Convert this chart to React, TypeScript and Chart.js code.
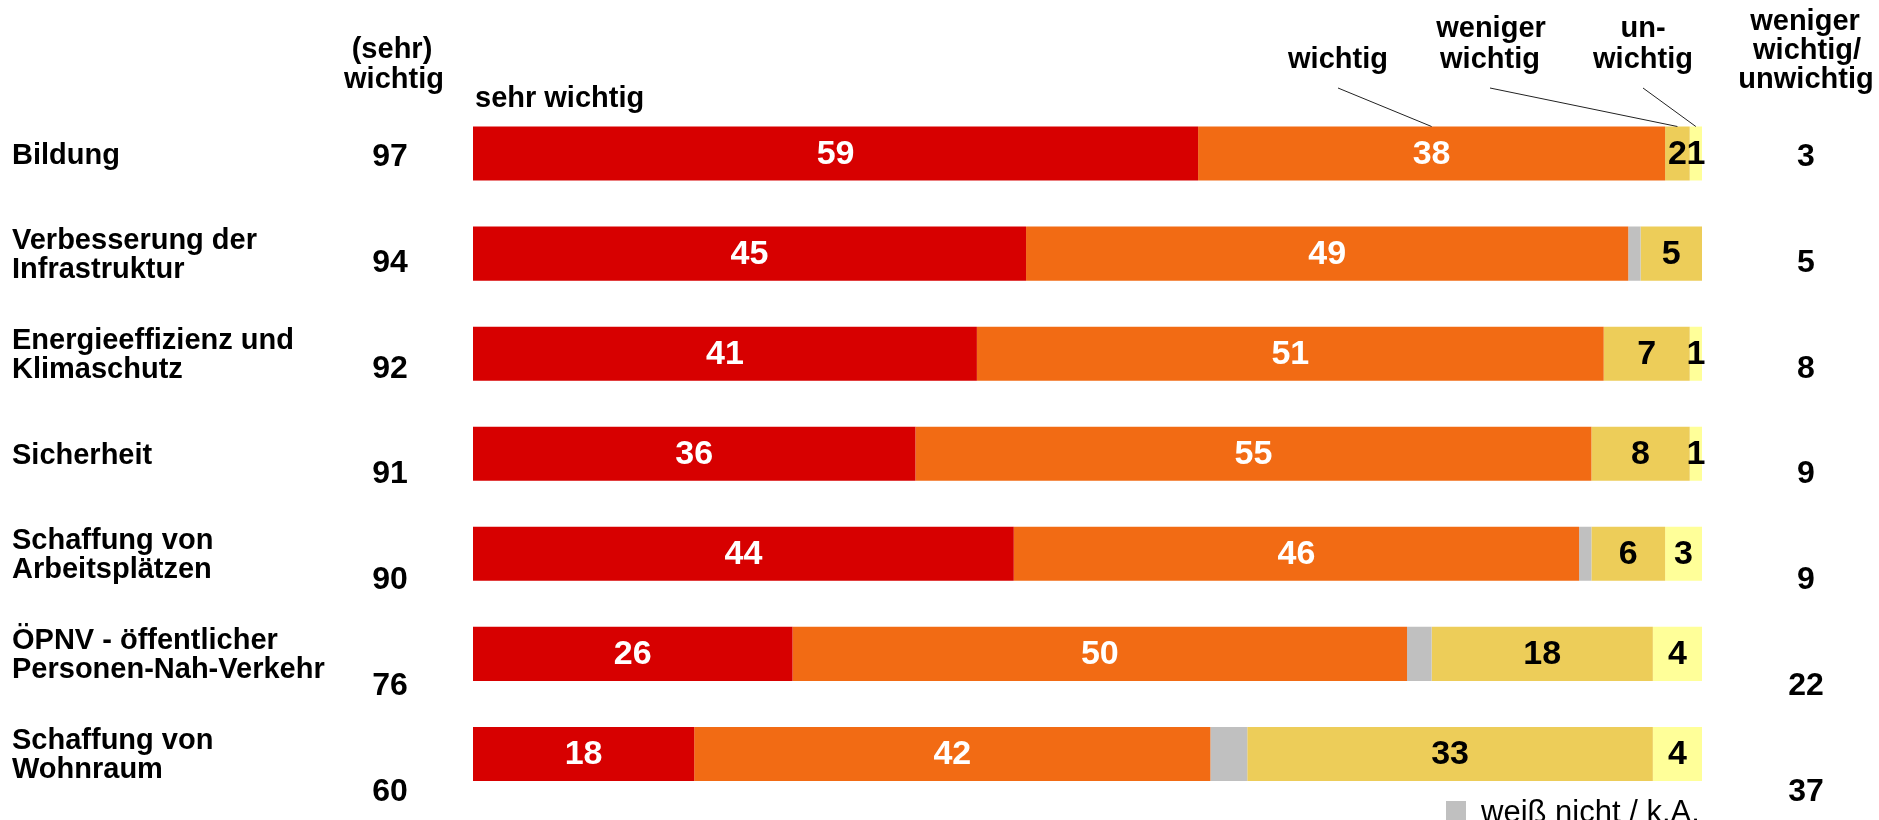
import React, { useEffect, useRef } from "react";
import { Chart, registerables } from "chart.js";

Chart.register(...registerables);

const categories: string[][] = [
  ["Bildung"],
  ["Verbesserung der", "Infrastruktur"],
  ["Energieeffizienz und", "Klimaschutz"],
  ["Sicherheit"],
  ["Schaffung von", "Arbeitsplätzen"],
  ["ÖPNV - öffentlicher", "Personen-Nah-Verkehr"],
  ["Schaffung von", "Wohnraum"],
];

const sehrWichtig = [59, 45, 41, 36, 44, 26, 18];
const wichtig = [38, 49, 51, 55, 46, 50, 42];
const weissNicht = [0, 1, 0, 0, 1, 2, 3];
const wenigerWichtig = [2, 5, 7, 8, 6, 18, 33];
const unwichtig = [1, 0, 1, 1, 3, 4, 4];

const summeWichtig = [97, 94, 92, 91, 90, 76, 60];
const summeUnwichtig = [3, 5, 8, 9, 9, 22, 37];

const seriesNames = ["sehr wichtig", "wichtig", "weiß nicht / k.A.", "weniger wichtig", "unwichtig"];
const seriesColors = ["#D70000", "#F26B14", "#C0C0C0", "#EDCD59", "#FFFF99"];
const labelColors: (string | null)[] = ["#FFFFFF", "#FFFFFF", null, "#000000", "#000000"];

const FONT = '"Liberation Sans", Arial, Helvetica, sans-serif';
const bold = (s: number) => `bold ${s}px ${FONT}`;

const overlayPlugin = {
  id: "overlay",
  afterDatasetsDraw(chart: any) {
    const ctx: CanvasRenderingContext2D = chart.ctx;
    const yScale = chart.scales.y;
    ctx.save();

    // values inside the segments
    chart.data.datasets.forEach((ds: any, di: number) => {
      const color = labelColors[di];
      if (!color) return;
      const meta = chart.getDatasetMeta(di);
      meta.data.forEach((el: any, i: number) => {
        const v = ds.data[i];
        if (!v) return;
        const p = el.getProps(["x", "base", "y"], true);
        ctx.fillStyle = color;
        ctx.font = bold(34);
        ctx.textAlign = "center";
        ctx.textBaseline = "middle";
        ctx.fillText(String(v), (p.x + p.base) / 2, p.y + 1);
      });
    });

    // side columns
    const p0 = yScale.getPixelForValue(0);
    const pitch = yScale.getPixelForValue(1) - p0;
    ctx.fillStyle = "#000";
    ctx.font = bold(32);
    ctx.textAlign = "center";
    ctx.textBaseline = "middle";
    summeWichtig.forEach((v, i) => {
      const yy = p0 + 3.5 + i * pitch * 1.058;
      ctx.fillText(String(v), 390, yy);
    });
    summeUnwichtig.forEach((v, i) => {
      const yy = p0 + 3.5 + i * pitch * 1.058;
      ctx.fillText(String(v), 1806, yy);
    });

    // headers
    ctx.font = bold(29);
    ctx.textBaseline = "alphabetic";
    ctx.textAlign = "center";
    ctx.fillText("(sehr)", 392, 58);
    ctx.fillText("wichtig", 394, 88);
    ctx.fillText("wichtig", 1338, 68);
    ctx.fillText("weniger", 1491, 37);
    ctx.fillText("wichtig", 1490, 68);
    ctx.fillText("un-", 1643, 37);
    ctx.fillText("wichtig", 1643, 68);
    ctx.fillText("weniger", 1805, 30);
    ctx.fillText("wichtig/", 1807, 59);
    ctx.fillText("unwichtig", 1806, 88);
    ctx.textAlign = "left";
    ctx.fillText(seriesNames[0], 475, 107);

    // leader lines to the first row
    const anchors: [number, number, number][] = [
      [1, 1338, 88],
      [3, 1490, 88],
      [4, 1643, 88],
    ];
    ctx.strokeStyle = "#222";
    ctx.lineWidth = 1;
    anchors.forEach(([di, ax, ay]) => {
      const el: any = chart.getDatasetMeta(di).data[0];
      const p = el.getProps(["x", "base", "y", "height"], true);
      ctx.beginPath();
      ctx.moveTo(ax, ay);
      ctx.lineTo((p.x + p.base) / 2, p.y - p.height / 2);
      ctx.stroke();
    });

    // legend entry for "weiß nicht / k.A."
    ctx.fillStyle = seriesColors[2];
    ctx.fillRect(1446, 801, 20, 20);
    ctx.fillStyle = "#000";
    ctx.font = `31px ${FONT}`;
    ctx.textAlign = "left";
    ctx.textBaseline = "alphabetic";
    ctx.fillText(seriesNames[2], 1481, 822);

    ctx.restore();
  },
};

export default function App() {
  const canvasRef = useRef<HTMLCanvasElement | null>(null);

  useEffect(() => {
    if (!canvasRef.current) return;
    const series = [sehrWichtig, wichtig, weissNicht, wenigerWichtig, unwichtig];
    const chart = new Chart(canvasRef.current, {
      type: "bar",
      data: {
        labels: categories as any,
        datasets: series.map((d, i) => ({
          label: seriesNames[i],
          data: d,
          backgroundColor: seriesColors[i],
          borderWidth: 0,
          barPercentage: 0.54,
          categoryPercentage: 1,
        })),
      },
      options: {
        indexAxis: "y",
        animation: false,
        responsive: false,
        events: [],
        layout: { padding: { left: 12, right: 177, top: 103.5, bottom: 16 } },
        plugins: { legend: { display: false }, tooltip: { enabled: false } },
        scales: {
          x: { stacked: true, min: 0, max: 100, display: false },
          y: {
            stacked: true,
            grid: { display: false },
            border: { display: false },
            ticks: {
              crossAlign: "far",
              color: "#000",
              padding: 0,
              labelOffset: 2,
              font: { family: FONT, size: 29, weight: "bold", lineHeight: 1 },
            },
            afterFit: (scale: any) => {
              scale.width = 461;
            },
          },
        },
      },
      plugins: [overlayPlugin],
    } as any);
    return () => chart.destroy();
  }, []);

  return (
    <div style={{ position: "fixed", left: 0, top: 0, width: 1879, height: 820, background: "#fff" }}>
      <canvas ref={canvasRef} width={1879} height={820} style={{ display: "block" }} />
    </div>
  );
}
